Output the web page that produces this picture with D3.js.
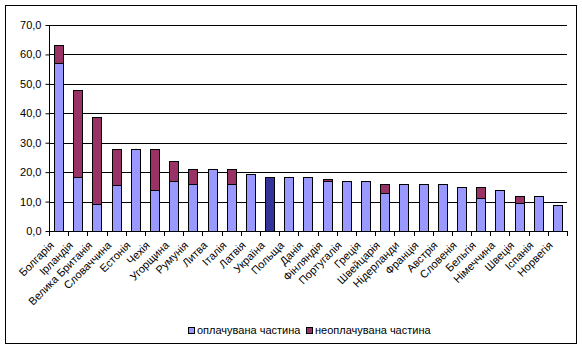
<!DOCTYPE html>
<html><head><meta charset="utf-8">
<script src="https://cdn.jsdelivr.net/npm/d3@7"></script>
<style>body{margin:0;background:#fff;} svg{display:block;font-family:"Liberation Sans",Arial,sans-serif;}</style>
</head><body>
<svg id="c" width="582" height="349"></svg>
<script>
const categories = ["Болгарія","Ірландія","Велика Британія","Словаччина","Естонія","Чехія","Угорщина","Румунія","Литва","Італія","Латвія","Україна","Польща","Данія","Фінляндія","Португалія","Греція","Швейцарія","Нідерланди","Франція","Австрія","Словенія","Бельгія","Німеччина","Швеція","Іспанія","Норвегія"];
const paid   = [57, 18.3, 9.2, 15.6, 28, 14, 17, 16, 21, 16, 19.2, 18.3, 18.3, 18.3, 17, 17, 17, 12.9, 16, 16, 16, 15, 11.2, 14, 9.5, 12, 8.8];
const unpaid = [6.2, 29.7, 29.6, 12.3, 0, 14, 6.8, 5, 0, 5, 0, 0, 0, 0, 0.7, 0, 0, 3.1, 0, 0, 0, 0, 3.8, 0, 2.4, 0, 0];
const yTicks = [0,10,20,30,40,50,60,70];
const seriesNames = ["оплачувана частина","неоплачувана частина"];
const highlight = "Україна";

const svg = d3.select("#c");
svg.append("rect").attr("x",5.5).attr("y",5.5).attr("width",571).attr("height",338).attr("fill","#fff").attr("stroke","#000").attr("stroke-width",1);

const m={l:49,r:567,t:25,b:231};
const x=d3.scaleBand().domain(categories).range([m.l,m.r]).paddingInner(0.53).paddingOuter(0.265);
const xb=d3.scaleBand().domain(categories).range([m.l,m.r]);
const y=d3.scaleLinear().domain([0,70]).range([m.b,m.t]);

// gridlines
svg.append("g").selectAll("line").data(yTicks.filter(d=>d>0)).join("line")
  .attr("x1",m.l).attr("x2",m.r).attr("y1",d=>Math.round(y(d))+0.5).attr("y2",d=>Math.round(y(d))+0.5)
  .attr("stroke","#000");

const colPaid="#9999FF", colUnpaid="#993366", colHi="#333399";
const g=svg.append("g");
categories.forEach((c,i)=>{
  const x0=Math.round(x(c))+0.5, w=Math.round(x.bandwidth());
  const yp=Math.round(y(paid[i]))+0.5;
  g.append("rect").attr("x",x0).attr("y",yp).attr("width",w).attr("height",Math.round(y(0))-Math.round(y(paid[i])))
    .attr("fill",c===highlight?colHi:colPaid).attr("stroke","#000");
  if(unpaid[i]>0){
    const yt=Math.round(y(paid[i]+unpaid[i]))+0.5;
    g.append("rect").attr("x",x0).attr("y",yt).attr("width",w).attr("height",yp-yt)
      .attr("fill",colUnpaid).attr("stroke","#000");
  }
});

// y axis
const ya=svg.append("g").attr("transform",`translate(${m.l+0.5},0)`)
  .call(d3.axisLeft(y).tickValues(yTicks).tickSize(4).tickFormat(d=>d3.format(".1f")(d).replace(".",",")));
ya.select(".domain").remove();
ya.append("line").attr("x1",0).attr("x2",0).attr("y1",m.t).attr("y2",m.b+0.5).attr("stroke","#000");
ya.selectAll(".tick line").attr("stroke","#000");
ya.selectAll(".tick text").attr("font-size",11).attr("fill","#000").attr("font-family","Liberation Sans, Arial").attr("dx",-1);

// x axis
const xa=svg.append("g");
xa.append("line").attr("x1",m.l).attr("x2",m.r+1).attr("y1",m.b+0.5).attr("y2",m.b+0.5).attr("stroke","#000");
xa.selectAll("line.tk").data(categories.concat(["_end"])).join("line").attr("class","tk")
  .attr("x1",(d,i)=>Math.round(m.l+i*xb.step())+0.5).attr("x2",(d,i)=>Math.round(m.l+i*xb.step())+0.5)
  .attr("y1",m.b).attr("y2",m.b+5).attr("stroke","#000");
xa.selectAll("text").data(categories).join("text")
  .attr("transform",d=>`translate(${xb(d)+xb.bandwidth()/2-4},${m.b+15}) rotate(-45)`)
  .attr("text-anchor","end").attr("font-size",11).attr("fill","#000").text(d=>d);

// legend
const lg=svg.append("g");
const items=[{n:seriesNames[0],c:colPaid,x:188},{n:seriesNames[1],c:colUnpaid,x:306}];
items.forEach(it=>{
  lg.append("rect").attr("x",it.x+0.5).attr("y",327.5).attr("width",6).attr("height",6).attr("fill",it.c).attr("stroke","#000");
  lg.append("text").attr("x",it.x+9).attr("y",334).attr("font-size",11).attr("fill","#000").text(it.n);
});
</script>
</body></html>
